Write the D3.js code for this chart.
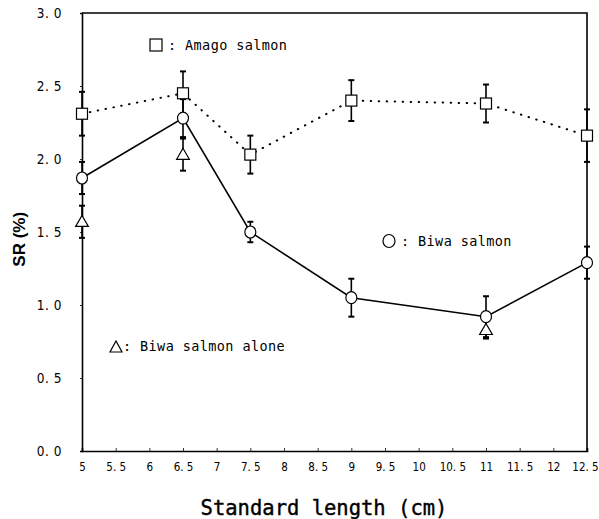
<!DOCTYPE html>
<html>
<head>
<meta charset="utf-8">
<script src="https://cdn.jsdelivr.net/npm/d3@7"></script>
<style>
  html, body { margin: 0; padding: 0; background: #fff; }
  svg { display: block; }
</style>
</head>
<body>
<svg id="chart" width="599" height="519"></svg>
<script>
// ---- data ----
const lengths = [5, 6.5, 7.5, 9, 11, 12.5];
const amagoSR = [2.31, 2.45, 2.03, 2.40, 2.38, 2.16];
const amagoErr = [0.15, 0.15, 0.13, 0.14, 0.13, 0.18];
const biwaSR = [1.87, 2.28, 1.50, 1.05, 0.92, 1.29];
const biwaErr = [0.11, 0.13, 0.07, 0.13, 0.14, 0.11];
const aloneLengths = [5, 6.5, 11];
const aloneSR = [1.57, 2.03, 0.83];
const aloneErr = [0.11, 0.11, 0.06];
const xTicks = [5, 5.5, 6, 6.5, 7, 7.5, 8, 8.5, 9, 9.5, 10, 10.5, 11, 11.5, 12, 12.5];
const yTicks = [0, 0.5, 1.0, 1.5, 2.0, 2.5, 3.0];

// ---- layout ----
const svg = d3.select("#chart");
const L = 82, R = 587, T = 13, B = 451;
const x = d3.scaleLinear().domain([5, 12.5]).range([L, R]);
const y = d3.scaleLinear().domain([0, 3]).range([B, T]);
const tickFont = "'Liberation Sans Narrow','DejaVu Sans Condensed',Arial,sans-serif";
const monoFont = "'DejaVu Sans Mono','Liberation Mono',monospace";

// x axis
const xAxis = svg.append("g").attr("transform", `translate(0,${B})`)
  .call(d3.axisBottom(x).tickValues(xTicks).tickSize(-3).tickPadding(12)
    .tickFormat(d => Number.isInteger(d) ? String(d) : d.toFixed(1).replace(".", ". ")));
xAxis.select(".domain").attr("stroke", "#000").attr("stroke-width", 1.6);
xAxis.selectAll(".tick line").attr("stroke", "#000").attr("stroke-width", 0.8);
xAxis.selectAll(".tick text").attr("font-family", tickFont).attr("font-size", 11.5)
  .attr("fill", "#000");
xAxis.selectAll(".tick text").filter(d => d === 12.5).attr("dx", -2);

// y axis
const yAxis = svg.append("g").attr("transform", `translate(${L},0)`)
  .call(d3.axisLeft(y).tickValues(yTicks).tickSize(2).tickPadding(18)
    .tickFormat(d => d.toFixed(1).replace(".", ". ")));
yAxis.select(".domain").attr("stroke", "#000").attr("stroke-width", 1.6);
yAxis.selectAll(".tick line").attr("stroke", "#000").attr("stroke-width", 0.8);
yAxis.selectAll(".tick text").attr("font-family", tickFont).attr("font-size", 13.5)
  .attr("fill", "#000").attr("letter-spacing", 0.5);

// frame top and right
svg.append("path").attr("d", d3.line()([[x(5), y(3)], [x(12.5), y(3)], [x(12.5), y(0)]]))
  .attr("fill", "none").attr("stroke", "#000").attr("stroke-width", 1.6);

// axis titles
svg.append("text").attr("transform", `translate(25,${y(1.45)}) rotate(-90)`)
  .attr("text-anchor", "middle").attr("font-family", "Arial, 'Liberation Sans', sans-serif")
  .attr("font-weight", "bold").attr("font-size", 17).attr("fill", "#000").text("SR (%)");
svg.append("text").attr("x", 324).attr("y", 515)
  .attr("text-anchor", "middle").attr("font-family", monoFont)
  .attr("font-size", 20.5).attr("fill", "#000").attr("stroke", "#000").attr("stroke-width", 0.4)
  .text("Standard length (cm)");

// lines
const amagoPts = lengths.map((d, i) => [x(d), y(amagoSR[i])]);
const biwaPts = lengths.map((d, i) => [x(d), y(biwaSR[i])]);
svg.append("path").attr("d", d3.line()(amagoPts)).attr("fill", "none")
  .attr("stroke", "#000").attr("stroke-width", 2).attr("stroke-linecap", "round")
  .attr("stroke-dasharray", "0.5,7.5");
svg.append("path").attr("d", d3.line()(biwaPts)).attr("fill", "none")
  .attr("stroke", "#000").attr("stroke-width", 1.6);

// error bars
function errBars(xs, vals, errs) {
  const g = svg.append("g");
  xs.forEach((d, i) => {
    const cx = x(d), y1 = y(vals[i] + errs[i]), y2 = y(vals[i] - errs[i]);
    g.append("line").attr("x1", cx).attr("x2", cx).attr("y1", y1).attr("y2", y2)
      .attr("stroke", "#000").attr("stroke-width", 1.6);
    [y1, y2].forEach(yy => g.append("line").attr("x1", cx - 3).attr("x2", cx + 3)
      .attr("y1", yy).attr("y2", yy).attr("stroke", "#000").attr("stroke-width", 2));
  });
}
errBars(lengths, amagoSR, amagoErr);
errBars(lengths, biwaSR, biwaErr);
errBars(aloneLengths, aloneSR, aloneErr);

// markers
svg.append("g").selectAll("rect").data(lengths).join("rect")
  .attr("x", d => x(d) - 5.5).attr("y", (d, i) => y(amagoSR[i]) - 5.5)
  .attr("width", 11).attr("height", 11).attr("fill", "#fff")
  .attr("stroke", "#000").attr("stroke-width", 1.2);
svg.append("g").selectAll("ellipse").data(lengths).join("ellipse")
  .attr("cx", d => x(d)).attr("cy", (d, i) => y(biwaSR[i]))
  .attr("rx", 5.5).attr("ry", 6).attr("fill", "#fff")
  .attr("stroke", "#000").attr("stroke-width", 1.2);
const tri = d3.symbol().type(d3.symbolTriangle).size(70);
svg.append("g").selectAll("path").data(aloneLengths).join("path")
  .attr("transform", (d, i) => `translate(${x(d)},${y(aloneSR[i]) + 1})`)
  .attr("d", tri).attr("fill", "#fff").attr("stroke", "#000").attr("stroke-width", 1.2);

// legends
function legend(lx, ly, shape, label) {
  const g = svg.append("g").attr("transform", `translate(${lx},${ly})`);
  if (shape === "square") {
    g.append("rect").attr("x", 0).attr("y", -11).attr("width", 12).attr("height", 12)
      .attr("fill", "#fff").attr("stroke", "#000").attr("stroke-width", 1.2);
  } else if (shape === "circle") {
    g.append("ellipse").attr("cx", 6).attr("cy", -5).attr("rx", 6).attr("ry", 6.5)
      .attr("fill", "#fff").attr("stroke", "#000").attr("stroke-width", 1.2);
  } else {
    g.append("path").attr("d", "M0,1 L12,1 L6,-10 Z")
      .attr("fill", "#fff").attr("stroke", "#000").attr("stroke-width", 1.2);
  }
  g.append("text").attr("x", shape === "triangle" ? 13 : 18).attr("y", 0)
    .attr("font-family", monoFont).attr("font-size", 13.5).attr("fill", "#000")
    .attr("letter-spacing", 0.4).text(label);
}
legend(150, 50, "square", ": Amago salmon");
legend(383, 246, "circle", ": Biwa salmon");
legend(110, 351, "triangle", ": Biwa salmon alone");
</script>
</body>
</html>
